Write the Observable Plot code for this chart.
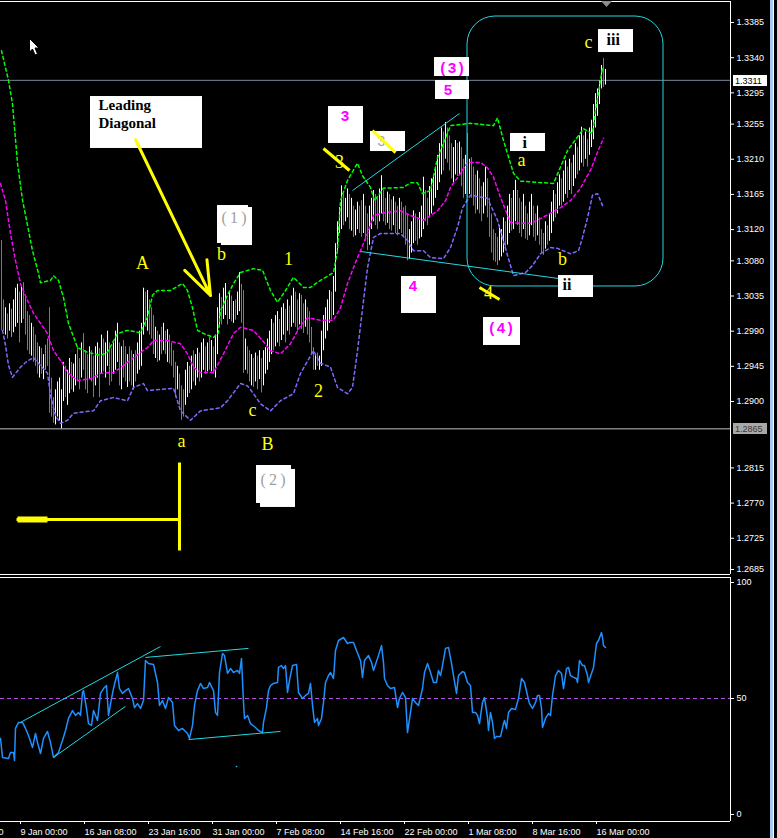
<!DOCTYPE html>
<html><head><meta charset="utf-8">
<script src="https://cdn.jsdelivr.net/npm/d3@7"></script>
<script src="https://cdn.jsdelivr.net/npm/@observablehq/plot@0.6"></script>
<style>
html,body{margin:0;padding:0;background:#000;overflow:hidden;}
#wrap{position:relative;width:777px;height:838px;background:#000;overflow:hidden;}
#wrap svg{display:block;}
.stripe{position:absolute;left:770px;top:0;width:3px;height:838px;background:#a6caf0;border-right:1px solid #fff;}
.cursor{position:absolute;left:29px;top:38px;}
.shift{position:absolute;left:601px;top:1px;}
</style></head><body><div id="wrap"></div>
<script>
// ---------- price bars (H4, in pips: 13106 = 1.3106) ----------
const highPips = [
13106,13030,13020,13012,13025,13018,13030,13045,13050,13040,
13048,13052,13035,13015,13010,13000,12995,12985,12975,12970,
12968,12960,12972,12980,13020,12930,12905,12915,12925,12930,
12915,12950,12945,12940,12955,12950,12948,12960,12970,12955,
12975,12987,12965,12960,12970,12965,12958,12970,12975,12968,
12985,12980,12975,12990,12975,12968,12975,12990,13000,12975,
12970,12978,12970,12960,12970,12965,12960,12965,12975,12990,
13000,13045,13040,13042,13030,13020,13010,12995,12990,12985,
12995,13000,12990,12992,12985,12975,12965,12950,12945,12935,
12920,12915,12940,12950,12945,12958,12965,12960,12968,12962,
12975,12980,12970,12975,12982,12978,12970,12985,13020,13038,
13033,13045,13051,13030,13040,13035,13028,13030,13040,13065,
13050,13042,12980,12970,12965,12960,12955,12962,12958,12965,
12955,12965,12969,12980,12990,13005,13000,13010,13015,13005,
13020,13025,13018,13030,13022,13035,13045,13040,13030,13038,
13036,13025,13030,13020,13015,12995,12969,12960,12962,12958,
12990,13010,13020,13030,13042,13040,13060,13102,13130,13148,
13176,13165,13160,13172,13165,13160,13150,13145,13155,13150,
13157,13165,13150,13140,13150,13160,13170,13165,13160,13172,
13189,13170,13160,13168,13165,13158,13162,13155,13150,13160,
13155,13148,13150,13140,13120,13130,13144,13140,13135,13142,
13150,13187,13170,13160,13175,13185,13190,13200,13215,13230,
13250,13245,13257,13250,13240,13230,13225,13234,13230,13232,
13225,13210,13215,13243,13210,13212,13200,13190,13195,13185,
13175,13180,13200,13185,13160,13140,13120,13115,13110,13125,
13120,13135,13130,13150,13165,13160,13170,13183,13170,13160,
13155,13165,13150,13140,13155,13165,13150,13140,13150,13135,
13120,13115,13130,13125,13140,13155,13170,13165,13180,13190,
13185,13195,13208,13200,13210,13205,13215,13230,13225,13240,
13251,13240,13245,13235,13250,13260,13280,13294,13300,13310,
13330,13339,13325];
const lowPips = [
12991,12990,12985,12980,12990,12982,12988,12995,13000,12975,
13000,13005,12985,12965,12960,12958,12950,12945,12935,12930,
12935,12928,12940,12945,12885,12880,12872,12870,12880,12875,
12865,12900,12905,12895,12910,12915,12912,12920,12925,12915,
12930,12940,12915,12910,12928,12925,12905,12920,12930,12905,
12935,12938,12930,12945,12920,12925,12935,12940,12950,12920,
12915,12930,12925,12918,12925,12920,12915,12925,12935,12940,
12945,12985,12995,12990,12985,12980,12960,12955,12950,12952,
12960,12965,12960,12950,12948,12945,12930,12905,12915,12895,
12876,12880,12895,12905,12910,12915,12925,12920,12930,12925,
12930,12940,12935,12938,12940,12938,12935,12930,12960,12995,
12998,13005,13010,12998,13005,13002,13000,13004,13010,13015,
13000,12936,12940,12935,12925,12920,12918,12925,12915,12928,
12911,12920,12935,12940,12950,12960,12965,12970,12975,12970,
12978,12985,12975,12990,12985,12995,13000,12995,12990,12998,
12992,12987,12995,12985,12975,12960,12940,12940,12945,12940,
12945,12965,12980,12990,13000,13005,13010,13040,13090,13115,
13120,13125,13130,13135,13120,13118,13110,13112,13120,13115,
13110,13115,13105,13093,13100,13120,13130,13125,13120,13130,
13140,13130,13125,13128,13120,13118,13125,13115,13112,13120,
13115,13110,13100,13080,13082,13090,13102,13105,13100,13108,
13110,13120,13130,13125,13135,13140,13150,13160,13170,13180,
13190,13195,13210,13205,13195,13185,13180,13190,13188,13190,
13175,13160,13165,13160,13165,13160,13150,13140,13145,13140,
13130,13140,13150,13135,13110,13090,13080,13078,13074,13080,
13085,13090,13095,13100,13115,13118,13120,13130,13125,13115,
13110,13120,13108,13106,13112,13125,13110,13105,13112,13100,
13090,13087,13095,13100,13105,13115,13130,13135,13140,13150,
13150,13155,13165,13160,13170,13165,13175,13185,13190,13195,
13205,13200,13210,13200,13215,13225,13235,13250,13265,13280,
13300,13302,13305];
// 1 = up bar, 0 = down bar, 2 = doji
const barKind = [
0,0,1,0,1,2,1,1,1,0, 1,0,0,0,0,1,0,0,0,1, 0,1,2,0,0,0,0,1,1,1, 1,1,0,1,1,0,1,1,0,0,
1,0,0,0,1,0,0,1,1,0, 1,0,1,1,0,0,1,1,1,0, 1,0,0,1,0,0,1,0,1,1, 1,1,0,1,0,0,0,1,0,1,
0,1,0,1,0,0,0,0,1,0, 0,0,1,1,2,1,0,1,1,0, 1,1,0,1,0,1,0,1,1,1, 0,1,1,0,1,0,1,0,1,1,
0,0,1,0,0,1,0,1,0,1, 0,1,1,1,1,1,0,1,1,0, 1,1,0,1,0,1,1,0,0,1, 0,0,1,0,0,0,0,1,0,1,
1,1,1,1,1,0,1,1,1,1, 1,0,1,1,0,1,0,1,1,0, 0,1,0,0,1,1,1,0,0,1, 1,0,0,1,0,0,1,0,0,1,
0,0,0,0,1,1,1,0,0,1, 1,1,0,0,1,1,1,1,1,1, 1,0,1,0,0,0,1,1,0,1, 0,0,1,0,1,0,0,0,1,0,
0,1,1,0,0,0,0,0,0,1, 1,1,0,1,1,0,1,1,0,0, 0,1,0,0,1,1,0,0,1,0, 0,0,1,0,1,1,1,0,1,1,
0,1,1,0,1,0,1,1,0,1, 1,0,1,0,1,1,1,1,1,1, 1,0,1];

// ---------- envelope bands (bar index, pips) ----------
const upperBandBar = [0,3.5,5.5,8,10.5,15.5,18.5,19.5,24.5,26,28.5,31,33.5,38,43,49.5,53,58,63,69.5,73,75.5,78,84.5,90.5,93,95.5,98,101,106,108.5,109.5,113,116,119.5,126,130.5,134.5,138,142,146,151,154.5,159.5,166,168,169.5,173,178,180.5,184.5,186.5,191,201,204.5,208,210.5,214.5,218,223,224.5,234.5,246,248,251,256,259.5,276,283,291,295.5,297,300.5];
const upperBandPips = [13349,13311,13281,13205,13158,13093,13064,13052,13055,13061,13055,13033,13000,12969,12963,12959,12963,12987,12991,12988,13008,13036,13042,13042,13051,13042,13020,12991,12987,12982,12988,13016,13036,13051,13065,13070,13068,13042,13027,13042,13059,13046,13046,13055,13065,13093,13157,13183,13205,13189,13174,13157,13173,13174,13180,13180,13166,13170,13212,13243,13253,13256,13253,13263,13234,13192,13182,13179,13221,13249,13243,13272,13327];
const middleBandBar = [-0.5,2,4.5,7,9.5,13,16,19.5,23,26,30.5,33,38,44.5,49.5,56,61,66,73,76,83,89.5,93,96,99.5,106,111,116,119.5,126,130.5,134.5,139.5,144.5,149.5,153,159.5,166,169.5,173,177,179.5,183,186,192,199.5,204.5,208,211,214.5,218,222,224.5,229.5,233,239.5,243,246,249.5,254.5,259.5,264.5,269.5,274.5,279.5,284.5,289.5,294.5,298,301];
const middleBandPips = [13179,13157,13115,13080,13051,13029,13013,13000,12987,12965,12949,12937,12927,12929,12936,12937,12946,12956,12969,12978,12978,12974,12961,12944,12937,12937,12961,12987,12995,12991,12978,12965,12961,12974,12997,13007,13004,13004,13020,13051,13078,13093,13115,13138,13142,13144,13138,13135,13132,13138,13144,13157,13174,13192,13206,13206,13199,13187,13161,13129,13128,13128,13134,13141,13148,13157,13173,13196,13219,13237];
const lowerBandBar = [0.5,2,3.5,5.5,9.5,13,16,19.5,23,24.5,27,29.5,33,36,42,46,49.5,56,63,66,71,73,86,89.5,94.5,99.5,109.5,113,119.5,123,126,129.5,134.5,139.5,146,149.5,156,159.5,164.5,168,173,175.5,178,181,183,186,189.5,199.5,203,206,211,214.5,221,224.5,228,230.5,234.5,243,248,253,256,262,265.5,269.5,274.5,278,284.5,288.5,290.5,293,295.5,298,301];
const lowerBandPips = [12991,12972,12946,12931,12944,12952,12956,12946,12936,12908,12882,12872,12876,12885,12887,12888,12901,12905,12901,12918,12923,12914,12917,12888,12876,12888,12892,12901,12923,12920,12910,12897,12888,12901,12910,12936,12965,12949,12944,12918,12910,12918,12965,13029,13071,13110,13115,13115,13106,13093,13093,13084,13083,13097,13123,13148,13164,13160,13132,13087,13061,13065,13074,13089,13097,13096,13089,13093,13110,13135,13164,13166,13148];

// ---------- oscillator (bar index, value 0-100) ----------
const rsiBar = [-0.5,0.5,3.5,4.5,6,6.5,7,8.5,10.5,12,13.5,15.5,17,18,19.5,21,23,24.5,26,28.5,30.5,32,33.5,35.5,37,38.5,39.5,40.5,41,42.5,43.5,45,46,48,49.5,51,52.5,53.5,55,56,58,59,60.5,62,63.5,65.5,66.5,68,69.5,71,72,73.5,76,78,79,80.5,82,83.5,85.5,86.5,88.5,90.5,93,94,95.5,96.5,98,99.5,101,103,104,106,107,108,109,110.5,111.5,113,114.5,116,118,119,120,121,121.5,123,124.5,127,128.5,130.5,131,132.5,133.5,134.5,136,138,138.5,140,141,142,143,144,145.5,147.5,148.5,150.5,152,153.5,154.5,155.5,156.5,158,158.5,160,161,162,163.5,164.5,166,167,168.5,171,173,174,176,177.5,179.5,180.5,181.5,183.5,185,186,188,190,191,191.5,193,194.5,196.5,198,199,200.5,202,203,204.5,205.5,207,208.5,210.5,211.5,213,214.5,216,217.5,218.5,219.5,220.5,222,223.5,225,226,227.5,228.5,230.5,231.5,233,234.5,235.5,237,238,239,240.5,241.5,243,243.5,244.5,245.5,246.5,247.5,249.5,251,251.5,252.5,253.5,255,257,258.5,260,261.5,263,264,265.5,267,268,269,270,270.5,272,273.5,274.5,275.5,277,278.5,280,281,282.5,283.5,284.5,286,287.5,288,289,290.5,291.5,293,293.5,295,296,297.5,298.5,300,300.5,301,302];
const rsiValue = [32.8,24.6,24.1,26.7,26.7,23.3,37.1,39.7,39.7,37.1,34.1,28.9,34.9,31.0,26.3,32.8,35.8,31.0,24.6,26.7,31.9,36.2,41.4,44.8,42.7,44.0,42.7,52.6,53.4,45.7,39.2,38.4,44.8,40.5,52.2,54.3,55.6,42.7,50.0,54.3,61.2,54.3,52.2,53.4,54.3,50.0,46.1,47.8,45.7,49.1,66.4,65.1,64.7,56.9,47.0,49.1,45.7,50.4,48.3,38.4,36.2,37.1,34.9,32.8,38.4,47.0,53.4,56.5,54.3,54.7,56.9,53.4,44.0,42.7,61.2,69.4,68.5,60.8,62.9,61.2,62.1,60.8,67.2,48.3,41.4,42.7,39.2,37.5,36.2,35.3,39.7,46.1,53.4,55.6,56.5,56.9,63.4,64.2,62.9,64.2,52.6,57.8,64.2,64.7,52.6,50.0,51.3,52.2,56.5,47.0,39.7,41.4,38.4,41.4,48.3,56.9,59.9,61.2,58.6,70.7,75.0,76.3,73.7,74.1,74.1,70.7,66.4,59.1,66.4,68.5,65.5,62.1,67.2,72.8,65.5,58.6,55.6,54.3,54.7,46.1,50.0,52.6,50.4,35.3,44.0,50.0,48.3,47.0,54.3,61.2,65.1,61.2,56.9,56.9,62.1,59.9,64.2,71.6,72.0,65.1,59.9,52.2,59.9,61.6,61.2,56.9,55.6,44.0,44.0,42.7,39.2,48.3,50.4,41.8,36.2,44.0,39.7,32.8,33.6,33.6,39.2,40.5,37.1,44.0,45.7,45.3,50.0,58.6,56.9,51.3,47.8,45.7,48.3,51.3,51.3,45.7,37.5,41.4,43.5,42.7,51.3,59.9,62.1,60.8,54.3,62.9,63.4,59.9,59.1,58.6,56.9,66.4,64.2,64.2,59.9,56.9,60.8,63.4,73.7,75.0,78.4,76.3,72.8,72.0];

// ---------- axes ----------
const priceTicks = [1.3385,1.3340,1.3295,1.3255,1.3210,1.3165,1.3120,1.3080,1.3035,1.2990,1.2945,1.2900,1.2815,1.2770,1.2725,1.2685];
const rsiTicks = [0, 50, 100];
const xTickBar = [-23, 9, 41, 73, 105, 137, 169, 201, 233, 265, 297];
const xTickLabel = ["1 Jan 16:00","9 Jan 00:00","16 Jan 08:00","23 Jan 16:00","31 Jan 00:00","7 Feb 08:00","14 Feb 16:00","22 Feb 00:00","1 Mar 08:00","8 Mar 16:00","16 Mar 00:00"];
const bidPrice = 1.3311;
const supportPrice = 1.2865;
const rsiMid = 50;

// ---------- chart objects (anchored in bar index / price) ----------
const noteBoxes = [
  {b1:44.5, b2:100.5, p1:1.32903, p2:1.32238},
  {b1:163.5,b2:181,   p1:1.32775, p2:1.32302},
  {b1:184.5,b2:202,   p1:1.32455, p2:1.32199},
  {b1:216.5,b2:234,   p1:1.33402, p2:1.33159},
  {b1:217,  b2:234,   p1:1.33108, p2:1.32865},
  {b1:254.5,b2:272,   p1:1.32430, p2:1.32199},
  {b1:298.5,b2:316,   p1:1.33760, p2:1.33466},
  {b1:278.5,b2:296,   p1:1.30612, p2:1.30331},
  {b1:200,  b2:217.5, p1:1.30600, p2:1.30126},
  {b1:241,  b2:259.5, p1:1.30075, p2:1.29717},
  {b1:110,  b2:125.5, p1:1.31483, p2:1.30996},
  {b1:108,  b2:123.5, p1:1.31508, p2:1.31022},
  {b1:129.5,b2:147,   p1:1.28130, p2:1.27644},
  {b1:127.5,b2:145,   p1:1.28181, p2:1.27695}
];
const diagonalTitle = [{t:"Leading", b:48.5, p:1.32788},{t:"Diagonal", b:48.5, p:1.32558}];
const magentaNotes = [
  {t:"3", b:169.5, p:1.32647},{t:"(3)", b:218.5, p:1.33268},{t:"5", b:221, p:1.32986},
  {t:"4", b:203.5, p:1.30478},{t:"(4)", b:243, p:1.29941}];
const romanNotes = [{t:"i", b:260.5, p:1.32308},{t:"ii", b:280.5, p:1.30491},{t:"iii", b:302.5, p:1.33632}];
const greyNotes = [{t:"(\u20091\u2009)", b:110, p:1.31348},{t:"(\u20092\u2009)", b:129.5, p:1.27995}];
const greyStruck = [{t:"3", b:188, p:1.32327}];
const waveNotes = [
  {t:"A", b:70.5, p:1.30766},{t:"b", b:110, p:1.30881},{t:"c", b:125.5, p:1.28885},
  {t:"a", b:90, p:1.28488},{t:"B", b:133, p:1.28450},{t:"1", b:143.5, p:1.30817},
  {t:"2", b:158.5, p:1.29128},{t:"a", b:260, p:1.32084},{t:"c", b:293.5, p:1.33594},
  {t:"b", b:280.5, p:1.30817},{t:"3", b:169, p:1.32058},{t:"4", b:243.5, p:1.30382}];
const yellowStrikes = [
  {b1:185.5, p1:1.32468, b2:197, p2:1.32186},
  {b1:161, p1:1.32238, b2:174, p2:1.31956},
  {b1:239, p1:1.30459, b2:249, p2:1.30305},
  {b1:89, p1:1.28219, b2:89, p2:1.27093},
  {b1:7.5, p1:1.27490, b2:89, p2:1.27490}];
const yellowHead = [{b1:8, p1:1.27490, b2:23, p2:1.27490}];
const yellowArrow = [{b1:67, p1:1.32353, b2:104.5, p2:1.30356}];
const cyanLines = [
  {b1:175.5, p1:1.31700, b2:229, p2:1.32686},
  {b1:179.5, p1:1.30920, b2:278.5, p2:1.30574}];
const focusBox = [{b1:233, b2:331, p1:1.33927, p2:1.30472}];
const rsiLines = [
  {b1:9.5, v1:39.7, b2:79.5, v2:72.4},
  {b1:26, v1:24.6, b2:62, v2:46.6},
  {b1:72, v1:67.7, b2:123.5, v2:71.6},
  {b1:93.5, v1:32.3, b2:139.5, v2:35.8}];
const rsiDot = [{b:117.5, v:20.7}];
const priceTags = [{price: bidPrice, bg:"#ffffff", fg:"#000000"},{price: supportPrice, bg:"#a8a8a8", fg:"#3a3a3a"}];

// ---------- build ----------
const xDomain = [-0.5, 364.5];
const priceDomain = [1.26786, 1.34119];
const rsiDomain = [-3.02, 102.16];
const bars = highPips.map((h, i) => ({i, hi: h / 1e4, lo: lowPips[i] / 1e4, kind: barKind[i]}));
const band = (bs, ps) => bs.map((b, k) => ({b, p: ps[k] / 1e4}));
const upper = band(upperBandBar, upperBandPips);
const middle = band(middleBandBar, middleBandPips);
const lower = band(lowerBandBar, lowerBandPips);
const rsi = rsiBar.map((b, k) => ({b, v: rsiValue[k]}));
const fmt4 = d3.format(".4f");
const sans = "Liberation Sans, Arial, sans-serif";
const serif = "Liberation Serif, Times New Roman, serif";
const cyan = "#22d8e2";
const yellow = "#ffff00";

const tagMark = (index, scales, values, dims) => {
  const g = d3.create("svg:g");
  const x0 = dims.width - dims.marginRight + 3;
  for (const t of priceTags) {
    const y = Math.round(scales.y(t.price));
    g.append("rect").attr("x", x0).attr("y", y - 5).attr("width", 34).attr("height", 11).attr("fill", t.bg);
    g.append("text").attr("x", x0 + 2).attr("y", y + 4).attr("fill", t.fg).attr("text-anchor", "start")
      .attr("font-size", 9).attr("font-family", sans).text(fmt4(t.price));
  }
  return g.node();
};

const main = Plot.plot({
  width: 777, height: 576,
  marginLeft: 0, marginRight: 47, marginTop: 1, marginBottom: 2,
  style: {background: "#000", color: "#fff", fontFamily: sans, fontSize: "9px"},
  x: {domain: xDomain, axis: null},
  y: {domain: priceDomain, axis: null},
  marks: [
    Plot.ruleY([bidPrice], {stroke: "#778899"}),
    Plot.ruleY([supportPrice], {stroke: "#c0c0c0"}),
    Plot.ruleX(bars.filter(d => d.kind === 1), {x: "i", y1: "lo", y2: "hi", stroke: "#ffffff"}),
    Plot.ruleX(bars.filter(d => d.kind === 0), {x: "i", y1: "lo", y2: "hi", stroke: "#2e8de8"}),
    Plot.ruleX(bars.filter(d => d.kind === 2), {x: "i", y1: "lo", y2: "hi", stroke: "#00ff00"}),
    Plot.line(lower, {x: "b", y: "p", stroke: "#7a6cff", strokeDasharray: "3,3"}),
    Plot.line(middle, {x: "b", y: "p", stroke: "#ff00ff", strokeDasharray: "3,3"}),
    Plot.line(upper, {x: "b", y: "p", stroke: "#00ff00", strokeDasharray: "3,3"}),
    Plot.rect(focusBox, {x1: "b1", x2: "b2", y1: "p1", y2: "p2", fill: "none", stroke: cyan, rx: 28}),
    Plot.link(cyanLines, {x1: "b1", y1: "p1", x2: "b2", y2: "p2", stroke: cyan}),
    Plot.rect(noteBoxes, {x1: "b1", x2: "b2", y1: "p1", y2: "p2", fill: "#ffffff"}),
    Plot.text(diagonalTitle, {x: "b", y: "p", text: "t", textAnchor: "start", fill: "#000", fontFamily: serif, fontWeight: "bold", fontSize: 15}),
    Plot.text(magentaNotes, {x: "b", y: "p", text: "t", textAnchor: "start", fill: "#ff00ff", fontFamily: "Liberation Mono, monospace", fontWeight: "bold", fontSize: 15}),
    Plot.text(romanNotes, {x: "b", y: "p", text: "t", textAnchor: "start", fill: "#000", fontFamily: serif, fontWeight: "bold", fontSize: 16}),
    Plot.text(greyNotes, {x: "b", y: "p", text: "t", textAnchor: "start", fill: "#a0a0a0", fontFamily: serif, fontSize: 16}),
    Plot.text(greyStruck, {x: "b", y: "p", text: "t", textAnchor: "start", fill: "#a0a0a0", fontFamily: sans, fontSize: 14}),
    Plot.text(waveNotes, {x: "b", y: "p", text: "t", fill: yellow, fontFamily: serif, fontSize: 18}),
    Plot.link(yellowStrikes, {x1: "b1", y1: "p1", x2: "b2", y2: "p2", stroke: yellow, strokeWidth: 3}),
    Plot.link(yellowHead, {x1: "b1", y1: "p1", x2: "b2", y2: "p2", stroke: yellow, strokeWidth: 6}),
    Plot.arrow(yellowArrow, {x1: "b1", y1: "p1", x2: "b2", y2: "p2", stroke: yellow, strokeWidth: 3, headLength: 18, headAngle: 40}),
    Plot.ruleY([priceDomain[1], priceDomain[0]], {stroke: "#fff"}),
    Plot.ruleX([xDomain[1]], {stroke: "#fff"}),
    Plot.axisY(priceTicks, {anchor: "right", tickSize: 3, tickPadding: 3, tickFormat: fmt4, label: null}),
    tagMark
  ]
});

const osc = Plot.plot({
  width: 777, height: 262,
  marginLeft: 0, marginRight: 47, marginTop: 1, marginBottom: 17,
  style: {background: "#000", color: "#fff", fontFamily: sans, fontSize: "9px"},
  x: {domain: xDomain, axis: null},
  y: {domain: rsiDomain, axis: null},
  marks: [
    Plot.ruleY([rsiMid], {stroke: "#b44ee6", strokeDasharray: "4,3"}),
    Plot.line(rsi, {x: "b", y: "v", stroke: "#1e90ff"}),
    Plot.link(rsiLines, {x1: "b1", y1: "v1", x2: "b2", y2: "v2", stroke: cyan}),
    Plot.dot(rsiDot, {x: "b", y: "v", r: 0.8, fill: cyan}),
    Plot.ruleY([rsiDomain[1], rsiDomain[0]], {stroke: "#fff"}),
    Plot.ruleX([xDomain[1]], {stroke: "#fff"}),
    Plot.axisY(rsiTicks, {anchor: "right", tickSize: 3, tickPadding: 3, label: null}),
    Plot.axisX(xTickBar, {anchor: "bottom", tickSize: 3, tickPadding: 4, textAnchor: "start", dx: 1,
      tickFormat: d => xTickLabel[xTickBar.indexOf(d)], label: null})
  ]
});

const wrap = document.getElementById("wrap");
wrap.append(main, osc);
wrap.insertAdjacentHTML("beforeend",
  '<div class="stripe"></div>' +
  '<svg class="cursor" width="12" height="20"><path d="M0.5,0.5 L0.5,14 L3.5,11 L6,17 L8.5,16 L6,10 L10,10 Z" fill="#fff" stroke="#000"/></svg>' +
  '<svg class="shift" width="12" height="7"><path d="M0,0 L11,0 L5.5,6 Z" fill="#8c8c8c"/></svg>');
</script></body></html>
